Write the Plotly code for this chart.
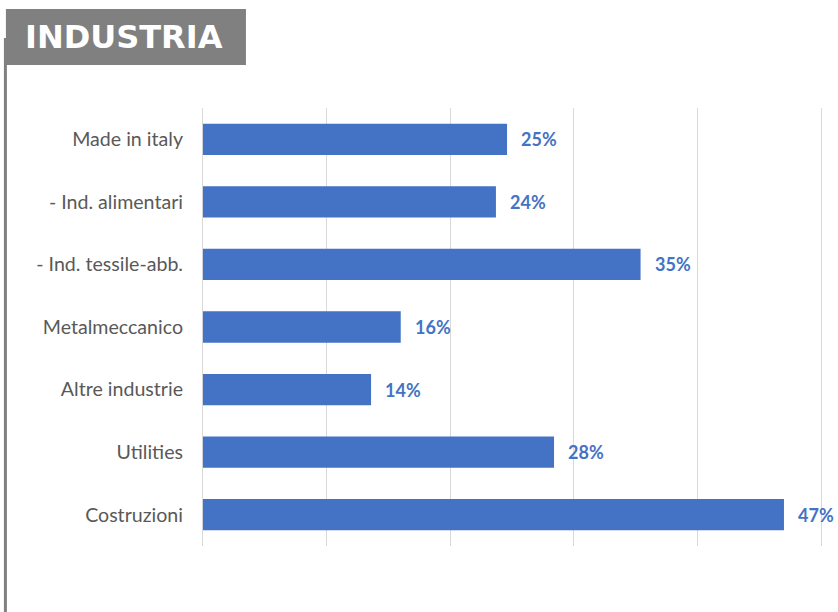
import plotly.graph_objects as go

categories = ["Made in italy", "- Ind. alimentari", "- Ind. tessile-abb.", "Metalmeccanico",
              "Altre industrie", "Utilities", "Costruzioni"]
values = [0.246, 0.237, 0.354, 0.160, 0.136, 0.284, 0.470]
title_text = "INDUSTRIA"
x_ticks = [0, 0.1, 0.2, 0.3, 0.4, 0.5]

BLUE = "#4472C4"
GRAY = "#808080"
W, H = 838, 612
PAD = 0.004
SCALE = 618 / 0.5  # px per unit
ML = 203 - PAD * SCALE
MR = W - (821 + PAD * SCALE)
MT, MB = 108, 66
pw, ph = W - ML - MR, H - MT - MB

def px_x(p):
    return (p - ML) / pw

def px_y(p):
    return (H - MB - p) / ph

fig = go.Figure()
fig.add_trace(go.Bar(
    y=categories, x=values, orientation="h", width=0.5,
    marker=dict(color=BLUE, line=dict(width=0)),
    hoverinfo="skip",
))

for c, v in zip(categories, values):
    fig.add_annotation(x=v, y=c, xref="x", yref="y", text=f"<b>{v:.0%}</b>",
                       showarrow=False, xanchor="left", xshift=12,
                       font=dict(family="Lato", size=18, color=BLUE))

# title box
fig.add_shape(type="rect", xref="paper", yref="paper",
              x0=px_x(6), x1=px_x(246), y0=px_y(65), y1=px_y(9),
              fillcolor=GRAY, line=dict(width=0), layer="above")
fig.add_shape(type="line", xref="paper", yref="paper",
              x0=px_x(5.5), x1=px_x(5.5), y0=px_y(38), y1=px_y(620),
              line=dict(color=GRAY, width=3))
fig.add_annotation(xref="paper", yref="paper", x=px_x(124), y=px_y(37),
                   text=f"<b>{title_text}</b>", showarrow=False,
                   xanchor="center", yanchor="middle",
                   font=dict(family="DejaVu Sans", size=32, color="white"))

fig.update_layout(
    width=W, height=H,
    margin=dict(l=ML, r=MR, t=MT, b=MB, pad=0),
    paper_bgcolor="white", plot_bgcolor="white",
    showlegend=False,
    xaxis=dict(range=[-PAD, 0.5 + PAD], tickvals=x_ticks, showticklabels=False,
               showgrid=True, gridcolor="#d9d9d9", gridwidth=1,
               zeroline=False, showline=False, fixedrange=True),
    yaxis=dict(autorange="reversed", showgrid=False, zeroline=False, showline=False,
               ticks="", ticklabelstandoff=14,
               tickfont=dict(family="Lato", size=19.6, color="#595959"), fixedrange=True),
)

fig.write_html("out.html", config={"displayModeBar": False},
               post_script="document.body.style.margin='0';document.body.style.overflow='hidden';")
